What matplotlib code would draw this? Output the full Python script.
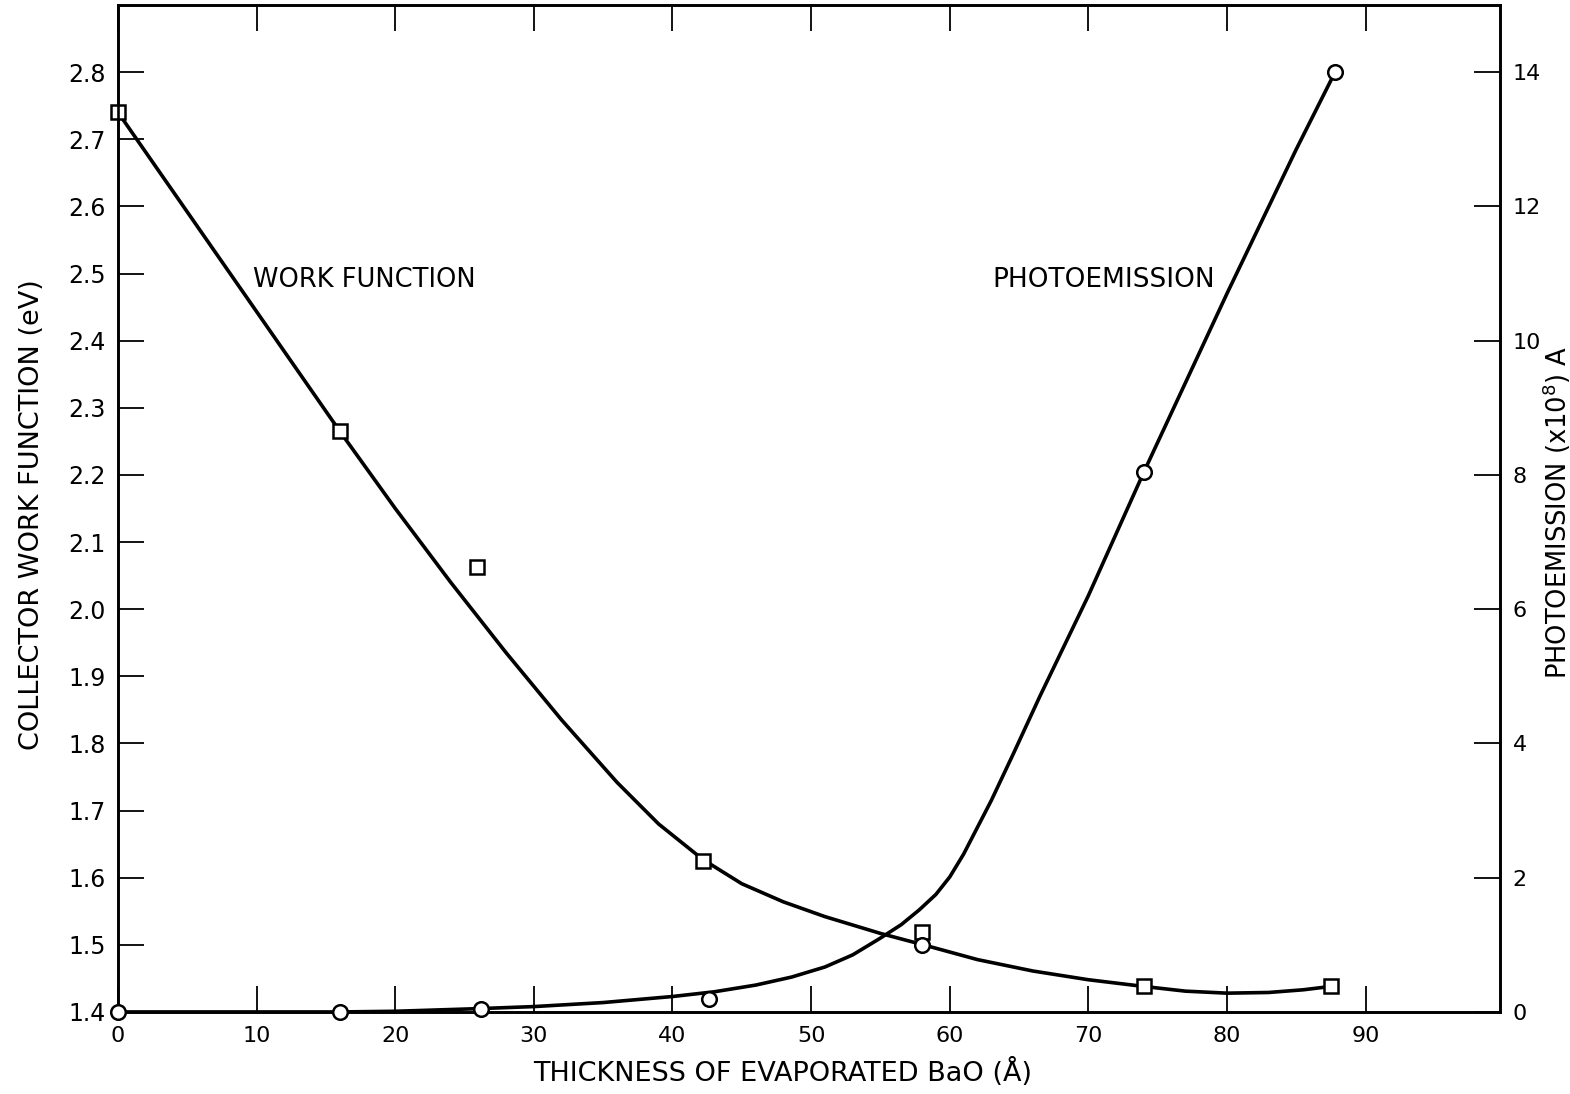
import matplotlib
matplotlib.use("Agg")
import matplotlib.pyplot as plt
from matplotlib.ticker import FormatStrFormatter

# measured points
wf_x = [0, 16.0, 25.9, 42.2, 58.0, 74.0, 87.5]
wf_y = [2.74, 2.265, 2.063, 1.625, 1.519, 1.439, 1.438]
pe_x = [0, 16.0, 26.2, 42.6, 58.0, 74.0, 87.8]
pe_y = [0.0, 0.0, 0.05, 0.19, 1.0, 8.04, 14.0]

# hand-drawn fit curves
wf_curve_x = [0, 8, 16, 20, 24, 28, 32, 36, 39, 42.2, 45, 48, 51, 55, 58.1,
              62, 66, 70, 74, 77, 80, 83, 85.5, 87.5]
wf_curve_y = [2.74, 2.5025, 2.265, 2.150, 2.040, 1.935, 1.835, 1.742, 1.680,
              1.627, 1.591, 1.564, 1.542, 1.517, 1.500, 1.478, 1.461, 1.448,
              1.438, 1.431, 1.428, 1.429, 1.433, 1.438]
pe_curve_x = [0, 10, 16, 20, 26.1, 30, 35, 40, 43, 46, 48.6, 51, 53, 55, 56.5,
              57.8, 59, 60, 61, 62, 63, 64.6, 66.5, 70, 74, 80, 85, 87.8]
pe_curve_y = [0.0, 0.0, 0.0, 0.01, 0.05, 0.08, 0.14, 0.23, 0.30, 0.40, 0.52,
              0.67, 0.85, 1.10, 1.30, 1.52, 1.75, 2.01, 2.35, 2.75, 3.15, 3.85,
              4.7, 6.2, 8.04, 10.7, 12.85, 14.0]

x_ticks = [0, 10, 20, 30, 40, 50, 60, 70, 80, 90]
wf_ticks = [1.4, 1.5, 1.6, 1.7, 1.8, 1.9, 2.0, 2.1, 2.2, 2.3, 2.4, 2.5, 2.6, 2.7, 2.8]
pe_ticks = [0, 2, 4, 6, 8, 10, 12, 14]

plt.rcParams["font.family"] = ["DejaVu Sans"]

fig = plt.figure(figsize=(15.7, 10.94), dpi=100)
ax = fig.add_axes([0.0752, 0.075, 0.8802, 0.9204])
ax2 = ax.twinx()

lw = 2.6
ax.plot(wf_curve_x, wf_curve_y, color="black", lw=lw, solid_capstyle="round",
        solid_joinstyle="round", zorder=3)
ax2.plot(pe_curve_x, pe_curve_y, color="black", lw=lw, solid_capstyle="round",
         solid_joinstyle="round", zorder=3)
ax.plot(wf_x, wf_y, "s", ms=9.5, mfc="white", mec="black", mew=1.8,
        clip_on=False, zorder=5)
ax2.plot(pe_x, pe_y, "o", ms=10.5, mfc="white", mec="black", mew=1.8,
         clip_on=False, zorder=5)

ax.set_xlim(0, 99.7)
ax.set_ylim(1.4, 2.9)
ax2.set_ylim(0, 15.0)

ax.set_xticks(x_ticks)
ax.set_yticks(wf_ticks)
ax.yaxis.set_major_formatter(FormatStrFormatter("%.1f"))
ax2.set_yticks(pe_ticks)

ax.tick_params(axis="x", direction="in", length=19, width=1.3, top=True,
               labelsize=16, pad=10)
ax.tick_params(axis="y", direction="in", length=19, width=1.3, right=False,
               labelsize=17, pad=9)
ax2.tick_params(axis="y", direction="in", length=19, width=1.3,
                labelsize=16, pad=9)
for a in (ax, ax2):
    for s in a.spines.values():
        s.set_linewidth(1.9)

ax.set_ylabel("COLLECTOR WORK FUNCTION (eV)", fontsize=19.5)
ax.yaxis.set_label_coords(-0.0530, 0.4935)
ax2.set_ylabel(r"PHOTOEMISSION (x10$^{8}$) A", fontsize=18.5)
ax2.yaxis.set_label_coords(1.029, 0.4965)
ax.set_xlabel("THICKNESS OF EVAPORATED BaO (Å)", fontsize=19.5)
ax.xaxis.set_label_coords(0.481, -0.046)

ax.text(9.7, 2.491, "WORK FUNCTION", fontsize=18.5, va="center", ha="left")
ax.text(63.1, 2.491, "PHOTOEMISSION", fontsize=19, va="center", ha="left")

fig.savefig("out.png", dpi=100)
